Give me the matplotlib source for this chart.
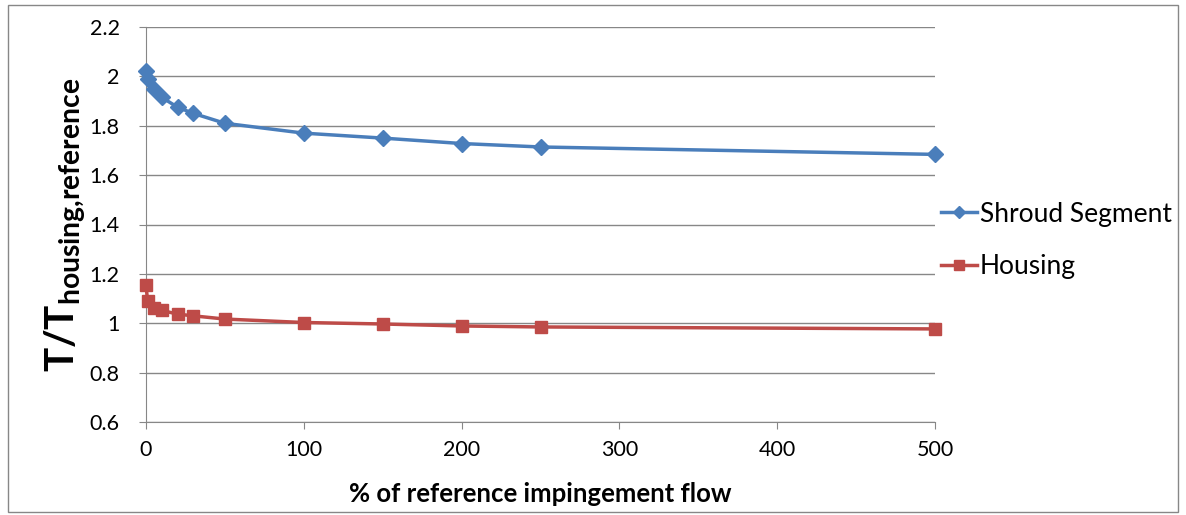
import numpy as np
import matplotlib
matplotlib.use('Agg')
from matplotlib import pyplot as plt
from matplotlib.patches import Rectangle

# values
flow = [0, 1, 5, 10, 20, 30, 50, 100, 150, 200, 250, 500]
shroud = [2.02, 1.99, 1.95, 1.915, 1.875, 1.85, 1.81, 1.77, 1.75, 1.728, 1.714, 1.684]
housing = [1.155, 1.09, 1.063, 1.052, 1.037, 1.03, 1.017, 1.003, 0.997, 0.989, 0.985, 0.977]

xticks = [0, 100, 200, 300, 400, 500]
yticks = [0.6, 0.8, 1.0, 1.2, 1.4, 1.6, 1.8, 2.0, 2.2]
ytick_labels = ['0.6', '0.8', '1', '1.2', '1.4', '1.6', '1.8', '2', '2.2']

plt.rcParams['font.family'] = ['Lato', 'DejaVu Sans']
plt.rcParams['mathtext.fontset'] = 'custom'
plt.rcParams['mathtext.rm'] = 'Lato'
plt.rcParams['mathtext.bf'] = 'Lato:bold'

fig = plt.figure(figsize=(11.86, 5.15), dpi=100)
ax = fig.add_axes([146/1186, 1 - 422/515, (935-146)/1186, (422-27)/515])

l1, = ax.plot(flow, shroud, color='#4A7EBB', lw=2.5, marker='D', ms=8, label='Shroud Segment')
l2, = ax.plot(flow, housing, color='#BE4B48', lw=2.5, marker='s', ms=9, label='Housing')
for ln in (l1, l2):
    ln.set_clip_on(False)
    ln.set_zorder(5)

ax.set_xlim(0, 500)
ax.set_ylim(0.6, 2.2)
ax.set_xticks(xticks)
ax.set_yticks(yticks)
ax.set_yticklabels(ytick_labels)
ax.tick_params(labelsize=15.5, colors='#878787', labelcolor='black', length=5, direction='out', pad=8)
ax.tick_params(axis='y', pad=14)
ax.grid(axis='y', color='#878787', lw=1)
ax.set_axisbelow(True)
for s in ['top', 'right']:
    ax.spines[s].set_visible(False)
for s in ['left', 'bottom']:
    ax.spines[s].set_color('#878787')

ax.set_xlabel('% of reference impingement flow', fontsize=18.5, fontweight='bold', labelpad=16)
ax.set_ylabel(r'$\mathbf{T/T_{housing{,}reference}}$', fontsize=29, labelpad=2)

leg = ax.legend(loc='center left', bbox_to_anchor=(941/1186, 1 - 240.5/515),
                bbox_transform=fig.transFigure, frameon=False, fontsize=19,
                handlelength=1.36, labelspacing=1.05, handletextpad=0.12,
                borderpad=0, borderaxespad=0, markerscale=0.75)

# outer chart border
fig.patches.append(Rectangle((8/1186, 3/515), 1170/1186, 507/515, transform=fig.transFigure,
                             fill=False, edgecolor='#878787', lw=1))

fig.savefig('out.png', dpi=100)
